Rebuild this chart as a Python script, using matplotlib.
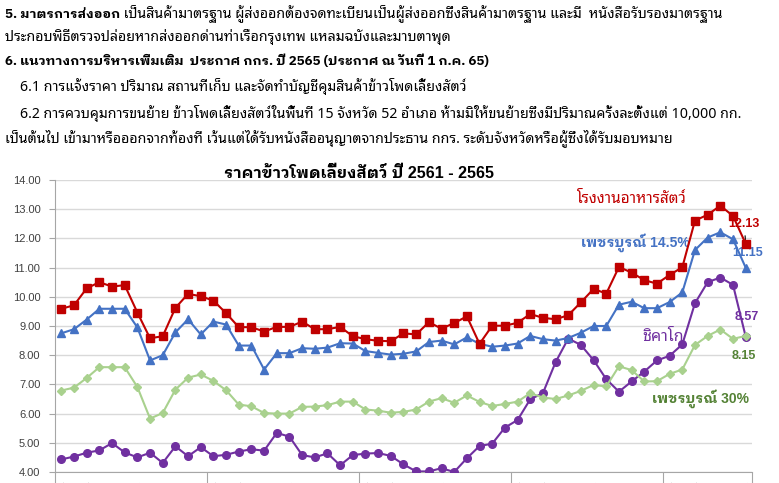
import matplotlib
matplotlib.use("Agg")
import matplotlib.pyplot as plt
import numpy as np

# Thai glyphs come from Thai fonts, digits/latin from Liberation
plt.rcParams['font.family'] = ['Liberation Sans', 'Noto Sans Thai Looped']
BOLD_FONT = ['Liberation Sans', 'IBM Plex Sans Thai Looped']
BODY_FONT = ['Liberation Sans Narrow', 'Noto Sans Thai Looped']
BODY_BOLD = ['Liberation Sans Narrow', 'IBM Plex Sans Thai Looped']

# Monthly prices (baht/kg), Jan 2561 - Jul 2565
months_th = ['ม.ค.', 'ก.พ.', 'มี.ค.', 'เม.ย.', 'พ.ค.', 'มิ.ย.',
             'ก.ค.', 'ส.ค.', 'ก.ย.', 'ต.ค.', 'พ.ย.', 'ธ.ค.']
years = ['2561', '2562', '2563', '2564', '2565']

feed_mill = [9.59, 9.71, 10.29, 10.50, 10.35, 10.40, 9.46, 8.58, 8.65, 9.62, 10.10, 10.02,
             9.87, 9.44, 8.96, 8.96, 8.81, 8.97, 8.97, 9.15, 8.89, 8.89, 8.97, 8.65,
             8.55, 8.49, 8.48, 8.75, 8.71, 9.13, 8.91, 9.10, 9.33, 8.39, 9.01, 9.01,
             9.11, 9.41, 9.28, 9.23, 9.37, 9.81, 10.27, 10.11, 11.02, 10.83, 10.57, 10.45,
             10.75, 11.01, 12.61, 12.81, 13.12, 12.77, 11.82]
phet_145 = [8.75, 8.89, 9.22, 9.59, 9.59, 9.59, 8.95, 7.82, 8.00, 8.78, 9.23, 8.71,
            9.15, 9.05, 8.33, 8.33, 7.51, 8.07, 8.07, 8.24, 8.22, 8.26, 8.41, 8.40,
            8.14, 8.08, 8.02, 8.05, 8.13, 8.45, 8.50, 8.37, 8.61, 8.39, 8.29, 8.33,
            8.40, 8.66, 8.55, 8.50, 8.59, 8.77, 9.00, 9.00, 9.73, 9.83, 9.61, 9.61,
            9.82, 10.15, 11.60, 12.03, 12.21, 11.97, 11.00]
phet_30 = [6.79, 6.89, 7.22, 7.59, 7.59, 7.59, 6.91, 5.83, 6.02, 6.82, 7.23, 7.34,
           7.12, 6.80, 6.31, 6.25, 6.02, 6.00, 6.00, 6.23, 6.24, 6.29, 6.41, 6.41,
           6.14, 6.10, 6.03, 6.06, 6.14, 6.41, 6.53, 6.37, 6.62, 6.40, 6.26, 6.33,
           6.41, 6.70, 6.55, 6.50, 6.62, 6.78, 6.98, 6.93, 7.62, 7.49, 7.10, 7.11,
           7.36, 7.51, 8.35, 8.66, 8.88, 8.56, 8.66]
chicago = [4.43, 4.53, 4.66, 4.74, 4.99, 4.67, 4.50, 4.66, 4.31, 4.88, 4.54, 4.85,
           4.54, 4.59, 4.70, 4.78, 4.73, 5.34, 5.21, 4.58, 4.50, 4.64, 4.23, 4.58,
           4.63, 4.65, 4.55, 4.26, 4.02, 4.02, 4.13, 4.00, 4.47, 4.89, 4.97, 5.52,
           5.78, 6.49, 6.70, 7.76, 8.57, 8.35, 7.83, 7.18, 6.75, 7.10, 7.44, 7.82,
           7.98, 8.37, 9.78, 10.50, 10.66, 10.41, 8.64]

body_lines = [
    (5, 14, "5. มาตรการส่งออก", " เป็นสินค้ามาตรฐาน ผู้ส่งออกต้องจดทะเบียนเป็นผู้ส่งออกซึ่งสินค้ามาตรฐาน และมี  หนังสือรับรองมาตรฐาน"),
    (5, 37, "", "ประกอบพิธีตรวจปล่อยหากส่งออกด่านท่าเรือกรุงเทพ แหลมฉบังและมาบตาพุด"),
    (5, 61, "6. แนวทางการบริหารเพิ่มเติม  ประกาศ กกร. ปี 2565 (ประกาศ ณ วันที่ 1 ก.ค. 65)", ""),
    (20, 87, "", "6.1 การแจ้งราคา ปริมาณ สถานที่เก็บ และจัดทำบัญชีคุมสินค้าข้าวโพดเลี้ยงสัตว์"),
    (20, 114, "", "6.2 การควบคุมการขนย้าย ข้าวโพดเลี้ยงสัตว์ในพื้นที่ 15 จังหวัด 52 อำเภอ ห้ามมิให้ขนย้ายซึ่งมีปริมาณครั้งละตั้งแต่ 10,000 กก."),
    (5, 138, "", "เป็นต้นไป เข้ามาหรือออกจากท้องที่ เว้นแต่ได้รับหนังสืออนุญาตจากประธาน กกร. ระดับจังหวัดหรือผู้ซึ่งได้รับมอบหมาย"),
]

W, H = 779, 483
fig = plt.figure(figsize=(W / 100, H / 100), dpi=100)
ax = fig.add_axes([55 / W, 11 / H, 697 / W, 292 / H])

x = np.arange(len(feed_mill))
ax.plot(x, chicago, color='#7030A0', marker='o', ms=5.5, lw=1.5, zorder=3)
ax.plot(x, phet_30, color='#A9D18E', marker='D', ms=4.5, lw=1.5, zorder=3)
ax.plot(x, phet_145, color='#4472C4', marker='^', ms=5.5, lw=1.5, zorder=4)
ax.plot(x, feed_mill, color='#C00000', marker='s', ms=5.5, lw=1.5, zorder=5)

ax.set_xlim(-0.5, len(x) - 0.5)
ax.set_ylim(4, 14)
ax.set_yticks(np.arange(4, 15, 1))
ax.set_yticklabels([f"{v:.2f}" for v in np.arange(4, 15, 1)], fontsize=8, color='#404040')
ax.grid(axis='y', color='#D9D9D9', lw=1)
ax.set_axisbelow(True)
for s in ['top', 'right']:
    ax.spines[s].set_visible(False)
for s in ['left', 'bottom']:
    ax.spines[s].set_color('#A6A6A6')
ax.tick_params(axis='y', length=4, color='#A6A6A6', pad=6.5)

# year separators + month labels (mostly below the visible area)
ax.set_xticks([-0.5 + 12 * k for k in range(len(years))] + [len(x) - 0.5])
ax.set_xticklabels([])
ax.tick_params(axis='x', which='major', length=15, color='#A6A6A6')
ax.set_xticks(x[::2], minor=True)
ax.set_xticklabels([months_th[i % 12] for i in x[::2]], minor=True, rotation=90,
                   fontsize=8, color='#404040')
ax.tick_params(axis='x', which='minor', length=0, pad=6)

# end-of-line value labels
ax.annotate('12.13', (x[-1], feed_mill[-1]), xytext=(-1, 14), textcoords='offset points',
            ha='center', va='center', fontsize=9, fontweight='bold', color='#C00000',
            arrowprops=dict(arrowstyle='-', color='black', lw=0.8, shrinkA=2, shrinkB=3))
ax.annotate('11.15', (x[-1], phet_145[-1]), xytext=(1.5, 10.5), textcoords='offset points',
            ha='center', va='center', fontsize=9, fontweight='bold', color='#4472C4')
ax.annotate('8.57', (x[-1], chicago[-1]), xytext=(0.5, 14), textcoords='offset points',
            ha='center', va='center', fontsize=9, fontweight='bold', color='#7030A0')
ax.annotate('8.15', (x[-1], phet_30[-1]), xytext=(-1.5, -14.5), textcoords='offset points',
            ha='center', va='center', fontsize=9, fontweight='bold', color='#548235')

# series names
ax.text(45.0, 13.38, 'โรงงานอาหารสัตว์', color='#C00000', fontsize=11, ha='center', va='center')
ax.text(45.3, 11.84, 'เพชรบูรณ์ 14.5%', color='#4472C4', fontsize=10, fontweight='bold',
        family=BOLD_FONT, ha='center', va='center')
ax.text(47.5, 8.65, 'ชิคาโก', color='#7030A0', fontsize=11.5, ha='center', va='center')
ax.text(50.4, 6.53, 'เพชรบูรณ์ 30%', color='#548235', fontsize=10, fontweight='bold',
        family=BOLD_FONT, ha='center', va='center')

fig.text(359 / W, 1 - 173 / H, 'ราคาข้าวโพดเลี้ยงสัตว์ ปี 2561 - 2565', fontsize=11.6,
         fontweight='bold', family=BOLD_FONT, ha='center', va='center')

# document text above the chart
fig.canvas.draw()
renderer = fig.canvas.get_renderer()
for x0, y0, bold_part, plain_part in body_lines:
    xx = x0 / W
    yy = 1 - (y0 + 4) / H
    if bold_part:
        t = fig.text(xx, yy, bold_part, family=BODY_BOLD, fontsize=9.5, fontweight='bold',
                     va='baseline')
        bb = t.get_window_extent(renderer)
        xx = bb.x1 / W
    if plain_part:
        fig.text(xx, yy, plain_part, family=BODY_FONT, fontsize=10.2, va='baseline')

fig.savefig('out.png', dpi=100)
